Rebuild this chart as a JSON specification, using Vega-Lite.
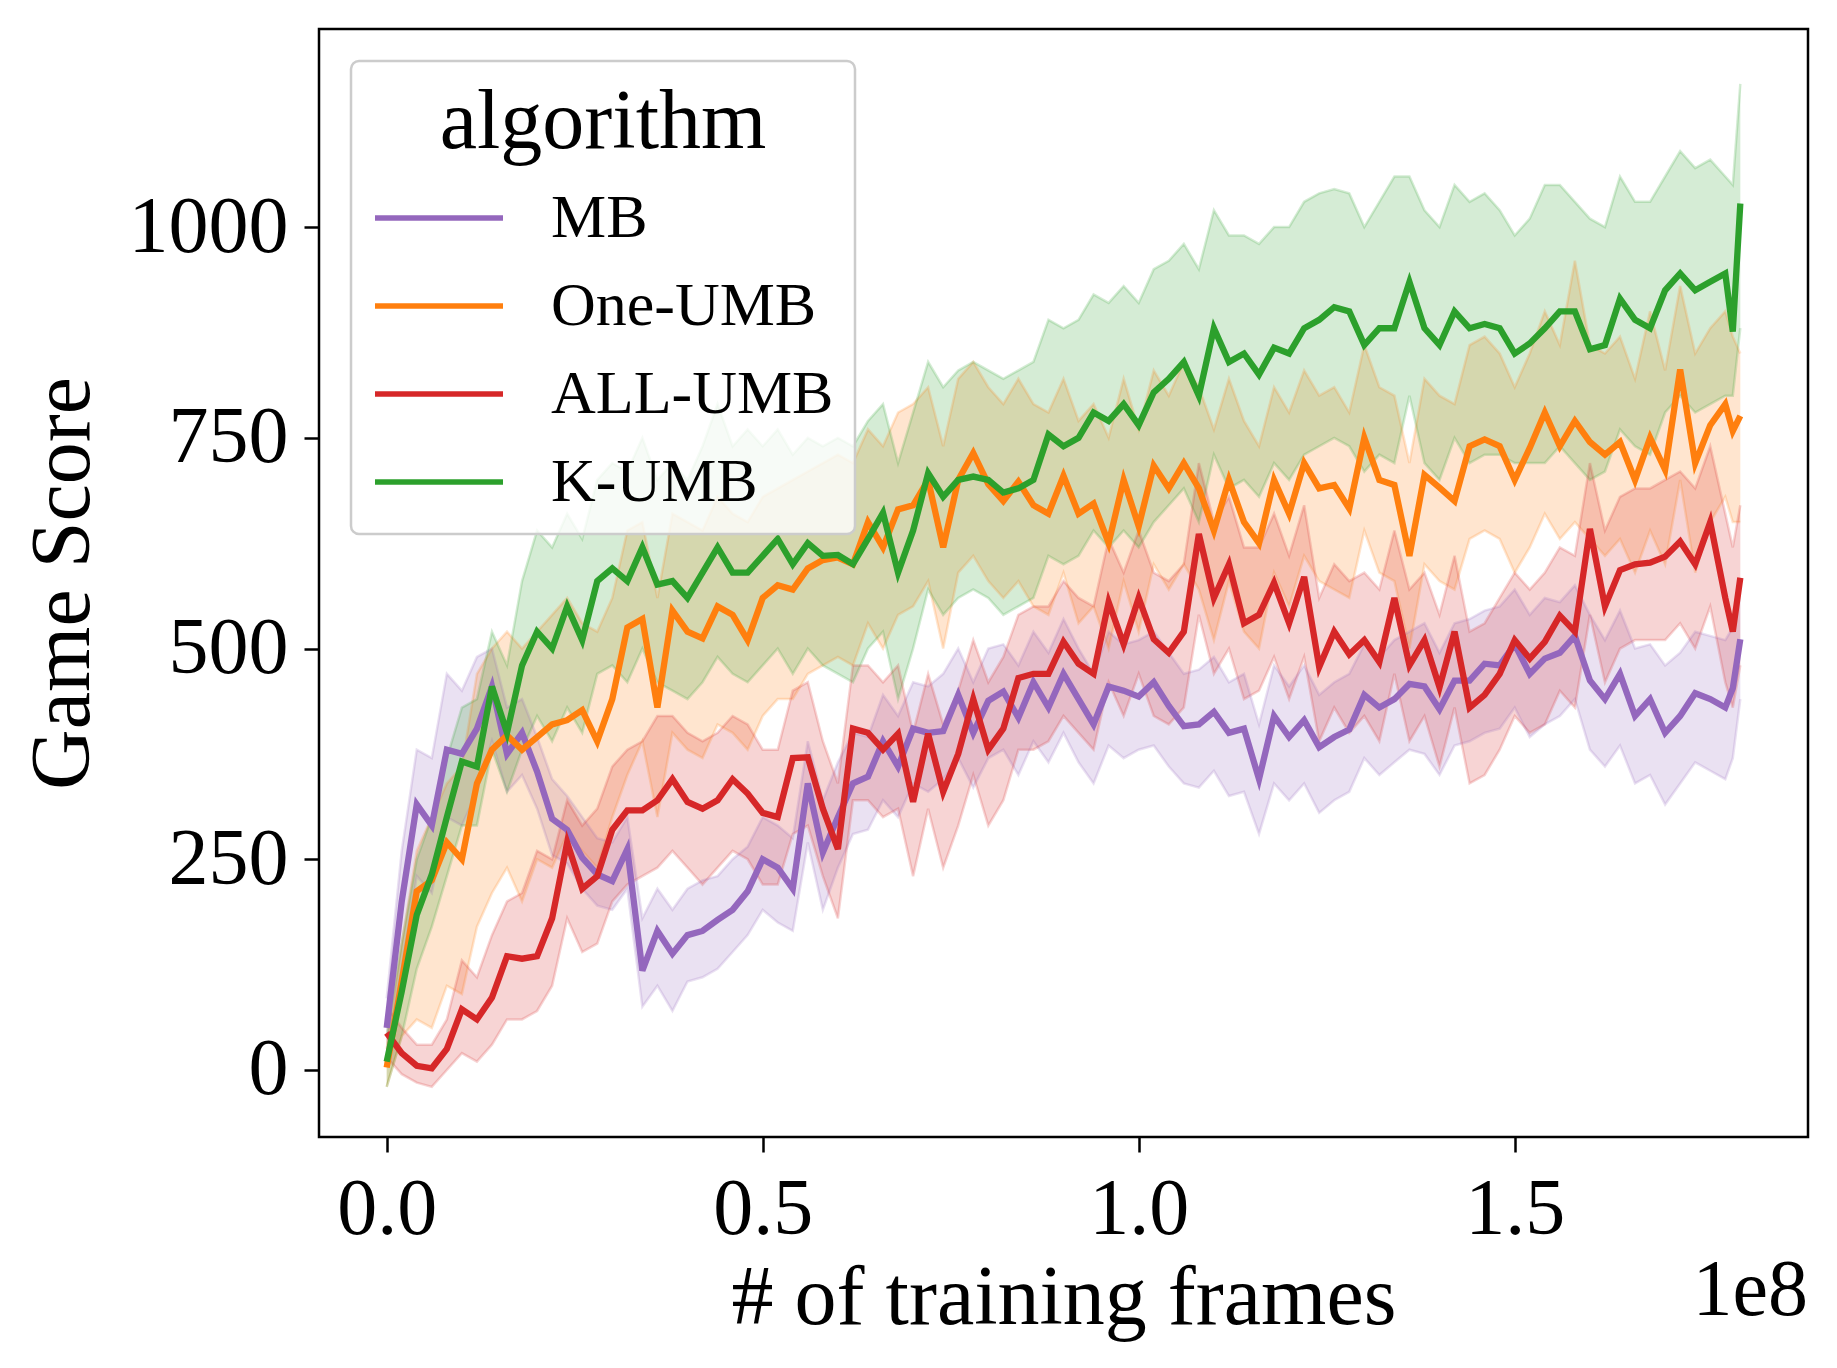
{
  "$schema": "https://vega.github.io/schema/vega-lite/v6.json",
  "description": "Game score vs training frames, mean line with band per algorithm",
  "width": 1489,
  "height": 1108,
  "autosize": {"type": "none"},
  "padding": {"left": 319, "top": 29, "right": 29, "bottom": 231},
  "background": "white",
  "title": {
    "text": "1e8",
    "orient": "bottom",
    "anchor": "end",
    "frame": "group",
    "fontSize": 80,
    "font": "Liberation Serif",
    "fontWeight": "normal",
    "color": "black",
    "offset": -88
  },
  "config": {
    "font": "Liberation Serif",
    "view": {"stroke": "black", "strokeWidth": 2.5},
    "axis": {
      "grid": false,
      "domain": false,
      "tickColor": "black",
      "tickWidth": 2.5,
      "tickSize": 15,
      "labelColor": "black",
      "labelFont": "Liberation Serif",
      "labelFontSize": 80,
      "labelLimit": 400,
      "titleColor": "black",
      "titleFont": "Liberation Serif",
      "titleFontSize": 84,
      "titleFontWeight": "normal"
    },
    "legend": {
      "orient": "top-left",
      "offset": 32,
      "padding": 21,
      "fillColor": "rgba(255,255,255,0.8)",
      "strokeColor": "#cccccc",
      "strokeWidth": 2.5,
      "cornerRadius": 8,
      "titleFont": "Liberation Serif",
      "titleFontSize": 84,
      "titleFontWeight": "normal",
      "titleColor": "black",
      "titleAnchor": "middle",
      "titleLimit": 800,
      "titlePadding": 17,
      "labelFont": "Liberation Serif",
      "labelFontSize": 62,
      "labelColor": "black",
      "labelLimit": 800,
      "labelOffset": 77,
      "symbolType": "M-2,0H2",
      "symbolSize": 4096,
      "symbolOffset": 32,
      "symbolStrokeWidth": 5.5,
      "rowPadding": 22
    }
  },
  "data": {
    "values": [
      {"algorithm":"MB","frames":0,"score":50,"lo":20,"hi":85},
      {"algorithm":"MB","frames":2,"score":200,"lo":120,"hi":260},
      {"algorithm":"MB","frames":4,"score":315,"lo":230,"hi":380},
      {"algorithm":"MB","frames":6,"score":290,"lo":210,"hi":370},
      {"algorithm":"MB","frames":8,"score":380,"lo":300,"hi":470},
      {"algorithm":"MB","frames":10,"score":375,"lo":290,"hi":450},
      {"algorithm":"MB","frames":12,"score":405,"lo":330,"hi":490},
      {"algorithm":"MB","frames":14,"score":455,"lo":390,"hi":500},
      {"algorithm":"MB","frames":16,"score":375,"lo":330,"hi":430},
      {"algorithm":"MB","frames":18,"score":400,"lo":350,"hi":440},
      {"algorithm":"MB","frames":20,"score":354,"lo":310,"hi":395},
      {"algorithm":"MB","frames":22,"score":298,"lo":255,"hi":345},
      {"algorithm":"MB","frames":24,"score":285,"lo":245,"hi":325},
      {"algorithm":"MB","frames":26,"score":252,"lo":215,"hi":300},
      {"algorithm":"MB","frames":28,"score":232,"lo":195,"hi":275},
      {"algorithm":"MB","frames":30,"score":224,"lo":190,"hi":270},
      {"algorithm":"MB","frames":32,"score":262,"lo":215,"hi":300},
      {"algorithm":"MB","frames":34,"score":118,"lo":75,"hi":180},
      {"algorithm":"MB","frames":36,"score":165,"lo":100,"hi":215},
      {"algorithm":"MB","frames":38,"score":138,"lo":70,"hi":190},
      {"algorithm":"MB","frames":40,"score":160,"lo":105,"hi":215},
      {"algorithm":"MB","frames":42,"score":165,"lo":110,"hi":225},
      {"algorithm":"MB","frames":44,"score":178,"lo":120,"hi":230},
      {"algorithm":"MB","frames":46,"score":190,"lo":140,"hi":250},
      {"algorithm":"MB","frames":48,"score":212,"lo":160,"hi":265},
      {"algorithm":"MB","frames":50,"score":250,"lo":190,"hi":300},
      {"algorithm":"MB","frames":52,"score":240,"lo":175,"hi":290},
      {"algorithm":"MB","frames":54,"score":215,"lo":165,"hi":275},
      {"algorithm":"MB","frames":56,"score":340,"lo":270,"hi":390},
      {"algorithm":"MB","frames":58,"score":258,"lo":190,"hi":320},
      {"algorithm":"MB","frames":60,"score":300,"lo":240,"hi":365},
      {"algorithm":"MB","frames":62,"score":340,"lo":280,"hi":400},
      {"algorithm":"MB","frames":64,"score":348,"lo":285,"hi":395},
      {"algorithm":"MB","frames":66,"score":390,"lo":320,"hi":445},
      {"algorithm":"MB","frames":68,"score":360,"lo":300,"hi":420},
      {"algorithm":"MB","frames":70,"score":405,"lo":340,"hi":460},
      {"algorithm":"MB","frames":72,"score":400,"lo":330,"hi":455},
      {"algorithm":"MB","frames":74,"score":402,"lo":345,"hi":470},
      {"algorithm":"MB","frames":76,"score":445,"lo":370,"hi":500},
      {"algorithm":"MB","frames":78,"score":400,"lo":335,"hi":460},
      {"algorithm":"MB","frames":80,"score":438,"lo":370,"hi":500},
      {"algorithm":"MB","frames":82,"score":449,"lo":380,"hi":505},
      {"algorithm":"MB","frames":84,"score":418,"lo":350,"hi":480},
      {"algorithm":"MB","frames":86,"score":460,"lo":390,"hi":520},
      {"algorithm":"MB","frames":88,"score":430,"lo":365,"hi":495},
      {"algorithm":"MB","frames":90,"score":470,"lo":400,"hi":535},
      {"algorithm":"MB","frames":92,"score":440,"lo":365,"hi":500},
      {"algorithm":"MB","frames":94,"score":410,"lo":340,"hi":470},
      {"algorithm":"MB","frames":96,"score":455,"lo":385,"hi":520},
      {"algorithm":"MB","frames":98,"score":450,"lo":370,"hi":505},
      {"algorithm":"MB","frames":100,"score":443,"lo":380,"hi":510},
      {"algorithm":"MB","frames":102,"score":460,"lo":385,"hi":520},
      {"algorithm":"MB","frames":104,"score":432,"lo":360,"hi":495},
      {"algorithm":"MB","frames":106,"score":408,"lo":340,"hi":470},
      {"algorithm":"MB","frames":108,"score":410,"lo":335,"hi":475},
      {"algorithm":"MB","frames":110,"score":425,"lo":355,"hi":490},
      {"algorithm":"MB","frames":112,"score":400,"lo":325,"hi":460},
      {"algorithm":"MB","frames":114,"score":405,"lo":330,"hi":470},
      {"algorithm":"MB","frames":116,"score":345,"lo":280,"hi":410},
      {"algorithm":"MB","frames":118,"score":420,"lo":340,"hi":480},
      {"algorithm":"MB","frames":120,"score":395,"lo":320,"hi":455},
      {"algorithm":"MB","frames":122,"score":415,"lo":340,"hi":480},
      {"algorithm":"MB","frames":124,"score":383,"lo":305,"hi":445},
      {"algorithm":"MB","frames":126,"score":395,"lo":320,"hi":460},
      {"algorithm":"MB","frames":128,"score":404,"lo":330,"hi":470},
      {"algorithm":"MB","frames":130,"score":445,"lo":370,"hi":505},
      {"algorithm":"MB","frames":132,"score":430,"lo":350,"hi":490},
      {"algorithm":"MB","frames":134,"score":440,"lo":365,"hi":510},
      {"algorithm":"MB","frames":136,"score":458,"lo":380,"hi":520},
      {"algorithm":"MB","frames":138,"score":455,"lo":375,"hi":530},
      {"algorithm":"MB","frames":140,"score":428,"lo":350,"hi":495},
      {"algorithm":"MB","frames":142,"score":462,"lo":385,"hi":530},
      {"algorithm":"MB","frames":144,"score":462,"lo":390,"hi":535},
      {"algorithm":"MB","frames":146,"score":482,"lo":400,"hi":545},
      {"algorithm":"MB","frames":148,"score":480,"lo":405,"hi":550},
      {"algorithm":"MB","frames":150,"score":505,"lo":430,"hi":570},
      {"algorithm":"MB","frames":152,"score":470,"lo":395,"hi":540},
      {"algorithm":"MB","frames":154,"score":488,"lo":410,"hi":560},
      {"algorithm":"MB","frames":156,"score":495,"lo":420,"hi":555},
      {"algorithm":"MB","frames":158,"score":515,"lo":440,"hi":575},
      {"algorithm":"MB","frames":160,"score":462,"lo":380,"hi":540},
      {"algorithm":"MB","frames":162,"score":440,"lo":360,"hi":510},
      {"algorithm":"MB","frames":164,"score":470,"lo":385,"hi":545},
      {"algorithm":"MB","frames":166,"score":420,"lo":340,"hi":500},
      {"algorithm":"MB","frames":168,"score":440,"lo":350,"hi":505},
      {"algorithm":"MB","frames":170,"score":400,"lo":315,"hi":480},
      {"algorithm":"MB","frames":172,"score":420,"lo":340,"hi":495},
      {"algorithm":"MB","frames":174,"score":447,"lo":365,"hi":520},
      {"algorithm":"MB","frames":176,"score":440,"lo":355,"hi":515},
      {"algorithm":"MB","frames":178,"score":430,"lo":345,"hi":510},
      {"algorithm":"MB","frames":179,"score":453,"lo":370,"hi":525},
      {"algorithm":"MB","frames":180,"score":511,"lo":440,"hi":580},
      {"algorithm":"One-UMB","frames":0,"score":3,"lo":-20,"hi":25},
      {"algorithm":"One-UMB","frames":2,"score":105,"lo":40,"hi":150},
      {"algorithm":"One-UMB","frames":4,"score":212,"lo":60,"hi":260},
      {"algorithm":"One-UMB","frames":6,"score":225,"lo":50,"hi":300},
      {"algorithm":"One-UMB","frames":8,"score":270,"lo":100,"hi":340},
      {"algorithm":"One-UMB","frames":10,"score":250,"lo":90,"hi":360},
      {"algorithm":"One-UMB","frames":12,"score":340,"lo":170,"hi":470},
      {"algorithm":"One-UMB","frames":14,"score":380,"lo":210,"hi":500},
      {"algorithm":"One-UMB","frames":16,"score":397,"lo":240,"hi":520},
      {"algorithm":"One-UMB","frames":18,"score":380,"lo":200,"hi":500},
      {"algorithm":"One-UMB","frames":20,"score":395,"lo":250,"hi":520},
      {"algorithm":"One-UMB","frames":22,"score":410,"lo":240,"hi":540},
      {"algorithm":"One-UMB","frames":24,"score":415,"lo":280,"hi":560},
      {"algorithm":"One-UMB","frames":26,"score":427,"lo":260,"hi":530},
      {"algorithm":"One-UMB","frames":28,"score":390,"lo":240,"hi":520},
      {"algorithm":"One-UMB","frames":30,"score":440,"lo":300,"hi":560},
      {"algorithm":"One-UMB","frames":32,"score":525,"lo":350,"hi":640},
      {"algorithm":"One-UMB","frames":34,"score":535,"lo":390,"hi":650},
      {"algorithm":"One-UMB","frames":36,"score":430,"lo":300,"hi":560},
      {"algorithm":"One-UMB","frames":38,"score":545,"lo":400,"hi":660},
      {"algorithm":"One-UMB","frames":40,"score":520,"lo":380,"hi":650},
      {"algorithm":"One-UMB","frames":42,"score":512,"lo":370,"hi":640},
      {"algorithm":"One-UMB","frames":44,"score":550,"lo":410,"hi":680},
      {"algorithm":"One-UMB","frames":46,"score":540,"lo":400,"hi":660},
      {"algorithm":"One-UMB","frames":48,"score":510,"lo":380,"hi":650},
      {"algorithm":"One-UMB","frames":50,"score":560,"lo":420,"hi":680},
      {"algorithm":"One-UMB","frames":52,"score":575,"lo":440,"hi":690},
      {"algorithm":"One-UMB","frames":54,"score":570,"lo":440,"hi":700},
      {"algorithm":"One-UMB","frames":56,"score":595,"lo":470,"hi":710},
      {"algorithm":"One-UMB","frames":58,"score":605,"lo":480,"hi":720},
      {"algorithm":"One-UMB","frames":60,"score":608,"lo":490,"hi":730},
      {"algorithm":"One-UMB","frames":62,"score":600,"lo":480,"hi":720},
      {"algorithm":"One-UMB","frames":64,"score":650,"lo":530,"hi":760},
      {"algorithm":"One-UMB","frames":66,"score":620,"lo":500,"hi":740},
      {"algorithm":"One-UMB","frames":68,"score":665,"lo":540,"hi":780},
      {"algorithm":"One-UMB","frames":70,"score":670,"lo":550,"hi":790},
      {"algorithm":"One-UMB","frames":72,"score":700,"lo":580,"hi":810},
      {"algorithm":"One-UMB","frames":74,"score":620,"lo":500,"hi":740},
      {"algorithm":"One-UMB","frames":76,"score":700,"lo":590,"hi":820},
      {"algorithm":"One-UMB","frames":78,"score":732,"lo":610,"hi":840},
      {"algorithm":"One-UMB","frames":80,"score":695,"lo":580,"hi":810},
      {"algorithm":"One-UMB","frames":82,"score":675,"lo":560,"hi":790},
      {"algorithm":"One-UMB","frames":84,"score":698,"lo":580,"hi":820},
      {"algorithm":"One-UMB","frames":86,"score":670,"lo":550,"hi":790},
      {"algorithm":"One-UMB","frames":88,"score":660,"lo":540,"hi":780},
      {"algorithm":"One-UMB","frames":90,"score":705,"lo":590,"hi":820},
      {"algorithm":"One-UMB","frames":92,"score":660,"lo":530,"hi":770},
      {"algorithm":"One-UMB","frames":94,"score":672,"lo":550,"hi":790},
      {"algorithm":"One-UMB","frames":96,"score":625,"lo":500,"hi":750},
      {"algorithm":"One-UMB","frames":98,"score":700,"lo":580,"hi":820},
      {"algorithm":"One-UMB","frames":100,"score":645,"lo":520,"hi":760},
      {"algorithm":"One-UMB","frames":102,"score":717,"lo":600,"hi":830},
      {"algorithm":"One-UMB","frames":104,"score":690,"lo":570,"hi":800},
      {"algorithm":"One-UMB","frames":106,"score":720,"lo":600,"hi":840},
      {"algorithm":"One-UMB","frames":108,"score":690,"lo":570,"hi":810},
      {"algorithm":"One-UMB","frames":110,"score":640,"lo":510,"hi":760},
      {"algorithm":"One-UMB","frames":112,"score":700,"lo":580,"hi":820},
      {"algorithm":"One-UMB","frames":114,"score":650,"lo":520,"hi":770},
      {"algorithm":"One-UMB","frames":116,"score":625,"lo":500,"hi":740},
      {"algorithm":"One-UMB","frames":118,"score":700,"lo":590,"hi":810},
      {"algorithm":"One-UMB","frames":120,"score":660,"lo":550,"hi":780},
      {"algorithm":"One-UMB","frames":122,"score":720,"lo":610,"hi":830},
      {"algorithm":"One-UMB","frames":124,"score":690,"lo":580,"hi":800},
      {"algorithm":"One-UMB","frames":126,"score":694,"lo":570,"hi":810},
      {"algorithm":"One-UMB","frames":128,"score":666,"lo":560,"hi":780},
      {"algorithm":"One-UMB","frames":130,"score":750,"lo":640,"hi":860},
      {"algorithm":"One-UMB","frames":132,"score":700,"lo":590,"hi":810},
      {"algorithm":"One-UMB","frames":134,"score":694,"lo":580,"hi":800},
      {"algorithm":"One-UMB","frames":136,"score":610,"lo":500,"hi":720},
      {"algorithm":"One-UMB","frames":138,"score":706,"lo":600,"hi":820},
      {"algorithm":"One-UMB","frames":140,"score":691,"lo":580,"hi":800},
      {"algorithm":"One-UMB","frames":142,"score":675,"lo":570,"hi":790},
      {"algorithm":"One-UMB","frames":144,"score":740,"lo":630,"hi":860},
      {"algorithm":"One-UMB","frames":146,"score":748,"lo":640,"hi":870},
      {"algorithm":"One-UMB","frames":148,"score":740,"lo":630,"hi":850},
      {"algorithm":"One-UMB","frames":150,"score":700,"lo":590,"hi":810},
      {"algorithm":"One-UMB","frames":152,"score":738,"lo":620,"hi":850},
      {"algorithm":"One-UMB","frames":154,"score":780,"lo":660,"hi":900},
      {"algorithm":"One-UMB","frames":156,"score":740,"lo":630,"hi":860},
      {"algorithm":"One-UMB","frames":158,"score":770,"lo":650,"hi":960},
      {"algorithm":"One-UMB","frames":160,"score":745,"lo":630,"hi":860},
      {"algorithm":"One-UMB","frames":162,"score":730,"lo":610,"hi":850},
      {"algorithm":"One-UMB","frames":164,"score":745,"lo":630,"hi":870},
      {"algorithm":"One-UMB","frames":166,"score":700,"lo":590,"hi":820},
      {"algorithm":"One-UMB","frames":168,"score":750,"lo":640,"hi":900},
      {"algorithm":"One-UMB","frames":170,"score":712,"lo":600,"hi":830},
      {"algorithm":"One-UMB","frames":172,"score":831,"lo":700,"hi":930},
      {"algorithm":"One-UMB","frames":174,"score":720,"lo":590,"hi":850},
      {"algorithm":"One-UMB","frames":176,"score":765,"lo":650,"hi":880},
      {"algorithm":"One-UMB","frames":178,"score":790,"lo":680,"hi":900},
      {"algorithm":"One-UMB","frames":179,"score":758,"lo":650,"hi":870},
      {"algorithm":"One-UMB","frames":180,"score":776,"lo":650,"hi":850},
      {"algorithm":"ALL-UMB","frames":0,"score":44,"lo":15,"hi":75},
      {"algorithm":"ALL-UMB","frames":2,"score":20,"lo":-5,"hi":50},
      {"algorithm":"ALL-UMB","frames":4,"score":5,"lo":-15,"hi":30},
      {"algorithm":"ALL-UMB","frames":6,"score":2,"lo":-20,"hi":30},
      {"algorithm":"ALL-UMB","frames":8,"score":25,"lo":0,"hi":60},
      {"algorithm":"ALL-UMB","frames":10,"score":72,"lo":20,"hi":130},
      {"algorithm":"ALL-UMB","frames":12,"score":60,"lo":10,"hi":110},
      {"algorithm":"ALL-UMB","frames":14,"score":86,"lo":30,"hi":160},
      {"algorithm":"ALL-UMB","frames":16,"score":135,"lo":60,"hi":200},
      {"algorithm":"ALL-UMB","frames":18,"score":132,"lo":60,"hi":210},
      {"algorithm":"ALL-UMB","frames":20,"score":135,"lo":70,"hi":260},
      {"algorithm":"ALL-UMB","frames":22,"score":180,"lo":100,"hi":250},
      {"algorithm":"ALL-UMB","frames":24,"score":270,"lo":180,"hi":320},
      {"algorithm":"ALL-UMB","frames":26,"score":215,"lo":140,"hi":290},
      {"algorithm":"ALL-UMB","frames":28,"score":230,"lo":150,"hi":310},
      {"algorithm":"ALL-UMB","frames":30,"score":285,"lo":200,"hi":360},
      {"algorithm":"ALL-UMB","frames":32,"score":308,"lo":220,"hi":380},
      {"algorithm":"ALL-UMB","frames":34,"score":308,"lo":230,"hi":390},
      {"algorithm":"ALL-UMB","frames":36,"score":320,"lo":240,"hi":420},
      {"algorithm":"ALL-UMB","frames":38,"score":345,"lo":260,"hi":420},
      {"algorithm":"ALL-UMB","frames":40,"score":318,"lo":240,"hi":400},
      {"algorithm":"ALL-UMB","frames":42,"score":310,"lo":220,"hi":390},
      {"algorithm":"ALL-UMB","frames":44,"score":320,"lo":240,"hi":400},
      {"algorithm":"ALL-UMB","frames":46,"score":345,"lo":260,"hi":420},
      {"algorithm":"ALL-UMB","frames":48,"score":328,"lo":250,"hi":410},
      {"algorithm":"ALL-UMB","frames":50,"score":305,"lo":220,"hi":380},
      {"algorithm":"ALL-UMB","frames":52,"score":300,"lo":220,"hi":380},
      {"algorithm":"ALL-UMB","frames":54,"score":370,"lo":280,"hi":450},
      {"algorithm":"ALL-UMB","frames":56,"score":371,"lo":290,"hi":460},
      {"algorithm":"ALL-UMB","frames":58,"score":310,"lo":230,"hi":390},
      {"algorithm":"ALL-UMB","frames":60,"score":262,"lo":180,"hi":340},
      {"algorithm":"ALL-UMB","frames":62,"score":405,"lo":320,"hi":480},
      {"algorithm":"ALL-UMB","frames":64,"score":400,"lo":320,"hi":480},
      {"algorithm":"ALL-UMB","frames":66,"score":380,"lo":300,"hi":460},
      {"algorithm":"ALL-UMB","frames":68,"score":399,"lo":310,"hi":480},
      {"algorithm":"ALL-UMB","frames":70,"score":318,"lo":230,"hi":400},
      {"algorithm":"ALL-UMB","frames":72,"score":399,"lo":310,"hi":470},
      {"algorithm":"ALL-UMB","frames":74,"score":330,"lo":240,"hi":410},
      {"algorithm":"ALL-UMB","frames":76,"score":375,"lo":290,"hi":450},
      {"algorithm":"ALL-UMB","frames":78,"score":440,"lo":350,"hi":510},
      {"algorithm":"ALL-UMB","frames":80,"score":380,"lo":290,"hi":460},
      {"algorithm":"ALL-UMB","frames":82,"score":405,"lo":320,"hi":490},
      {"algorithm":"ALL-UMB","frames":84,"score":465,"lo":380,"hi":540},
      {"algorithm":"ALL-UMB","frames":86,"score":470,"lo":380,"hi":550},
      {"algorithm":"ALL-UMB","frames":88,"score":470,"lo":390,"hi":550},
      {"algorithm":"ALL-UMB","frames":90,"score":508,"lo":420,"hi":580},
      {"algorithm":"ALL-UMB","frames":92,"score":482,"lo":400,"hi":560},
      {"algorithm":"ALL-UMB","frames":94,"score":470,"lo":380,"hi":550},
      {"algorithm":"ALL-UMB","frames":96,"score":555,"lo":460,"hi":630},
      {"algorithm":"ALL-UMB","frames":98,"score":505,"lo":420,"hi":590},
      {"algorithm":"ALL-UMB","frames":100,"score":560,"lo":470,"hi":640},
      {"algorithm":"ALL-UMB","frames":102,"score":511,"lo":420,"hi":590},
      {"algorithm":"ALL-UMB","frames":104,"score":495,"lo":410,"hi":580},
      {"algorithm":"ALL-UMB","frames":106,"score":520,"lo":430,"hi":600},
      {"algorithm":"ALL-UMB","frames":108,"score":636,"lo":540,"hi":720},
      {"algorithm":"ALL-UMB","frames":110,"score":560,"lo":470,"hi":650},
      {"algorithm":"ALL-UMB","frames":112,"score":600,"lo":500,"hi":680},
      {"algorithm":"ALL-UMB","frames":114,"score":530,"lo":440,"hi":620},
      {"algorithm":"ALL-UMB","frames":116,"score":540,"lo":450,"hi":620},
      {"algorithm":"ALL-UMB","frames":118,"score":578,"lo":490,"hi":660},
      {"algorithm":"ALL-UMB","frames":120,"score":530,"lo":440,"hi":610},
      {"algorithm":"ALL-UMB","frames":122,"score":585,"lo":490,"hi":670},
      {"algorithm":"ALL-UMB","frames":124,"score":478,"lo":390,"hi":560},
      {"algorithm":"ALL-UMB","frames":126,"score":520,"lo":430,"hi":600},
      {"algorithm":"ALL-UMB","frames":128,"score":493,"lo":400,"hi":580},
      {"algorithm":"ALL-UMB","frames":130,"score":510,"lo":420,"hi":590},
      {"algorithm":"ALL-UMB","frames":132,"score":484,"lo":390,"hi":570},
      {"algorithm":"ALL-UMB","frames":134,"score":560,"lo":470,"hi":640},
      {"algorithm":"ALL-UMB","frames":136,"score":480,"lo":390,"hi":570},
      {"algorithm":"ALL-UMB","frames":138,"score":510,"lo":420,"hi":590},
      {"algorithm":"ALL-UMB","frames":140,"score":454,"lo":360,"hi":540},
      {"algorithm":"ALL-UMB","frames":142,"score":520,"lo":430,"hi":610},
      {"algorithm":"ALL-UMB","frames":144,"score":430,"lo":340,"hi":520},
      {"algorithm":"ALL-UMB","frames":146,"score":445,"lo":350,"hi":530},
      {"algorithm":"ALL-UMB","frames":148,"score":470,"lo":380,"hi":560},
      {"algorithm":"ALL-UMB","frames":150,"score":510,"lo":420,"hi":590},
      {"algorithm":"ALL-UMB","frames":152,"score":488,"lo":400,"hi":570},
      {"algorithm":"ALL-UMB","frames":154,"score":508,"lo":410,"hi":590},
      {"algorithm":"ALL-UMB","frames":156,"score":539,"lo":450,"hi":620},
      {"algorithm":"ALL-UMB","frames":158,"score":520,"lo":430,"hi":610},
      {"algorithm":"ALL-UMB","frames":160,"score":642,"lo":540,"hi":720},
      {"algorithm":"ALL-UMB","frames":162,"score":550,"lo":460,"hi":640},
      {"algorithm":"ALL-UMB","frames":164,"score":593,"lo":500,"hi":680},
      {"algorithm":"ALL-UMB","frames":166,"score":600,"lo":510,"hi":690},
      {"algorithm":"ALL-UMB","frames":168,"score":602,"lo":510,"hi":690},
      {"algorithm":"ALL-UMB","frames":170,"score":609,"lo":510,"hi":700},
      {"algorithm":"ALL-UMB","frames":172,"score":627,"lo":530,"hi":710},
      {"algorithm":"ALL-UMB","frames":174,"score":600,"lo":500,"hi":690},
      {"algorithm":"ALL-UMB","frames":176,"score":650,"lo":550,"hi":740},
      {"algorithm":"ALL-UMB","frames":178,"score":560,"lo":460,"hi":660},
      {"algorithm":"ALL-UMB","frames":179,"score":520,"lo":430,"hi":620},
      {"algorithm":"ALL-UMB","frames":180,"score":584,"lo":480,"hi":670},
      {"algorithm":"K-UMB","frames":0,"score":10,"lo":-20,"hi":40},
      {"algorithm":"K-UMB","frames":2,"score":93,"lo":40,"hi":150},
      {"algorithm":"K-UMB","frames":4,"score":184,"lo":120,"hi":250},
      {"algorithm":"K-UMB","frames":6,"score":232,"lo":170,"hi":300},
      {"algorithm":"K-UMB","frames":8,"score":300,"lo":230,"hi":370},
      {"algorithm":"K-UMB","frames":10,"score":366,"lo":290,"hi":430},
      {"algorithm":"K-UMB","frames":12,"score":360,"lo":290,"hi":440},
      {"algorithm":"K-UMB","frames":14,"score":455,"lo":380,"hi":520},
      {"algorithm":"K-UMB","frames":16,"score":400,"lo":330,"hi":480},
      {"algorithm":"K-UMB","frames":18,"score":480,"lo":380,"hi":580},
      {"algorithm":"K-UMB","frames":20,"score":520,"lo":420,"hi":640},
      {"algorithm":"K-UMB","frames":22,"score":500,"lo":390,"hi":620},
      {"algorithm":"K-UMB","frames":24,"score":550,"lo":430,"hi":660},
      {"algorithm":"K-UMB","frames":26,"score":510,"lo":400,"hi":630},
      {"algorithm":"K-UMB","frames":28,"score":580,"lo":470,"hi":700},
      {"algorithm":"K-UMB","frames":30,"score":595,"lo":480,"hi":720},
      {"algorithm":"K-UMB","frames":32,"score":580,"lo":460,"hi":710},
      {"algorithm":"K-UMB","frames":34,"score":620,"lo":500,"hi":750},
      {"algorithm":"K-UMB","frames":36,"score":576,"lo":460,"hi":700},
      {"algorithm":"K-UMB","frames":38,"score":580,"lo":450,"hi":720},
      {"algorithm":"K-UMB","frames":40,"score":560,"lo":440,"hi":700},
      {"algorithm":"K-UMB","frames":42,"score":590,"lo":460,"hi":740},
      {"algorithm":"K-UMB","frames":44,"score":620,"lo":490,"hi":790},
      {"algorithm":"K-UMB","frames":46,"score":590,"lo":470,"hi":740},
      {"algorithm":"K-UMB","frames":48,"score":590,"lo":460,"hi":760},
      {"algorithm":"K-UMB","frames":50,"score":610,"lo":480,"hi":740},
      {"algorithm":"K-UMB","frames":52,"score":630,"lo":500,"hi":760},
      {"algorithm":"K-UMB","frames":54,"score":600,"lo":470,"hi":730},
      {"algorithm":"K-UMB","frames":56,"score":625,"lo":500,"hi":750},
      {"algorithm":"K-UMB","frames":58,"score":610,"lo":480,"hi":740},
      {"algorithm":"K-UMB","frames":60,"score":611,"lo":470,"hi":750},
      {"algorithm":"K-UMB","frames":62,"score":600,"lo":460,"hi":740},
      {"algorithm":"K-UMB","frames":64,"score":630,"lo":500,"hi":770},
      {"algorithm":"K-UMB","frames":66,"score":661,"lo":520,"hi":790},
      {"algorithm":"K-UMB","frames":68,"score":590,"lo":440,"hi":720},
      {"algorithm":"K-UMB","frames":70,"score":640,"lo":500,"hi":780},
      {"algorithm":"K-UMB","frames":72,"score":708,"lo":570,"hi":840},
      {"algorithm":"K-UMB","frames":74,"score":680,"lo":540,"hi":810},
      {"algorithm":"K-UMB","frames":76,"score":700,"lo":560,"hi":830},
      {"algorithm":"K-UMB","frames":78,"score":704,"lo":570,"hi":840},
      {"algorithm":"K-UMB","frames":80,"score":700,"lo":560,"hi":830},
      {"algorithm":"K-UMB","frames":82,"score":685,"lo":540,"hi":820},
      {"algorithm":"K-UMB","frames":84,"score":690,"lo":550,"hi":830},
      {"algorithm":"K-UMB","frames":86,"score":700,"lo":560,"hi":840},
      {"algorithm":"K-UMB","frames":88,"score":754,"lo":610,"hi":890},
      {"algorithm":"K-UMB","frames":90,"score":740,"lo":600,"hi":880},
      {"algorithm":"K-UMB","frames":92,"score":750,"lo":610,"hi":890},
      {"algorithm":"K-UMB","frames":94,"score":780,"lo":640,"hi":920},
      {"algorithm":"K-UMB","frames":96,"score":770,"lo":620,"hi":910},
      {"algorithm":"K-UMB","frames":98,"score":790,"lo":640,"hi":930},
      {"algorithm":"K-UMB","frames":100,"score":765,"lo":620,"hi":910},
      {"algorithm":"K-UMB","frames":102,"score":804,"lo":650,"hi":950},
      {"algorithm":"K-UMB","frames":104,"score":820,"lo":670,"hi":960},
      {"algorithm":"K-UMB","frames":106,"score":840,"lo":690,"hi":980},
      {"algorithm":"K-UMB","frames":108,"score":800,"lo":650,"hi":950},
      {"algorithm":"K-UMB","frames":110,"score":880,"lo":730,"hi":1020},
      {"algorithm":"K-UMB","frames":112,"score":840,"lo":690,"hi":990},
      {"algorithm":"K-UMB","frames":114,"score":850,"lo":700,"hi":990},
      {"algorithm":"K-UMB","frames":116,"score":825,"lo":680,"hi":980},
      {"algorithm":"K-UMB","frames":118,"score":857,"lo":720,"hi":1000},
      {"algorithm":"K-UMB","frames":120,"score":850,"lo":700,"hi":1000},
      {"algorithm":"K-UMB","frames":122,"score":880,"lo":730,"hi":1030},
      {"algorithm":"K-UMB","frames":124,"score":890,"lo":740,"hi":1040},
      {"algorithm":"K-UMB","frames":126,"score":905,"lo":750,"hi":1045},
      {"algorithm":"K-UMB","frames":128,"score":900,"lo":740,"hi":1040},
      {"algorithm":"K-UMB","frames":130,"score":860,"lo":710,"hi":1000},
      {"algorithm":"K-UMB","frames":132,"score":880,"lo":730,"hi":1030},
      {"algorithm":"K-UMB","frames":134,"score":880,"lo":720,"hi":1060},
      {"algorithm":"K-UMB","frames":136,"score":935,"lo":800,"hi":1060},
      {"algorithm":"K-UMB","frames":138,"score":880,"lo":720,"hi":1020},
      {"algorithm":"K-UMB","frames":140,"score":860,"lo":700,"hi":1000},
      {"algorithm":"K-UMB","frames":142,"score":900,"lo":750,"hi":1050},
      {"algorithm":"K-UMB","frames":144,"score":880,"lo":720,"hi":1030},
      {"algorithm":"K-UMB","frames":146,"score":885,"lo":730,"hi":1040},
      {"algorithm":"K-UMB","frames":148,"score":880,"lo":730,"hi":1020},
      {"algorithm":"K-UMB","frames":150,"score":850,"lo":720,"hi":990},
      {"algorithm":"K-UMB","frames":152,"score":862,"lo":720,"hi":1010},
      {"algorithm":"K-UMB","frames":154,"score":880,"lo":720,"hi":1050},
      {"algorithm":"K-UMB","frames":156,"score":900,"lo":740,"hi":1050},
      {"algorithm":"K-UMB","frames":158,"score":900,"lo":720,"hi":1030},
      {"algorithm":"K-UMB","frames":160,"score":855,"lo":700,"hi":1010},
      {"algorithm":"K-UMB","frames":162,"score":860,"lo":710,"hi":1000},
      {"algorithm":"K-UMB","frames":164,"score":915,"lo":760,"hi":1060},
      {"algorithm":"K-UMB","frames":166,"score":890,"lo":740,"hi":1030},
      {"algorithm":"K-UMB","frames":168,"score":880,"lo":730,"hi":1030},
      {"algorithm":"K-UMB","frames":170,"score":925,"lo":780,"hi":1060},
      {"algorithm":"K-UMB","frames":172,"score":945,"lo":800,"hi":1090},
      {"algorithm":"K-UMB","frames":174,"score":925,"lo":780,"hi":1070},
      {"algorithm":"K-UMB","frames":176,"score":935,"lo":790,"hi":1080},
      {"algorithm":"K-UMB","frames":178,"score":945,"lo":800,"hi":1060},
      {"algorithm":"K-UMB","frames":179,"score":876,"lo":800,"hi":1050},
      {"algorithm":"K-UMB","frames":180,"score":1028,"lo":880,"hi":1170}
    ]
  },
  "encoding": {
    "x": {
      "field": "frames",
      "type": "quantitative",
      "title": "# of training frames",
      "scale": {"domain": [-9, 189], "nice": false, "zero": false},
      "axis": {
        "values": [0, 50, 100, 150],
        "labelExpr": "format(datum.value / 100, '.1f')",
        "labelPadding": 18,
        "titlePadding": 8
      }
    },
    "color": {
      "field": "algorithm",
      "type": "nominal",
      "title": "algorithm",
      "scale": {"domain": ["MB", "One-UMB", "ALL-UMB", "K-UMB"], "range": ["#9467bd", "#ff7f0e", "#d62728", "#2ca02c"]},
      "legend": {
        "encode": {
          "symbols": {
            "update": {
              "stroke": {"scale": "color", "field": "value"},
              "strokeOpacity": {"value": 1},
              "opacity": {"value": 1},
              "fill": {"value": "transparent"}
            }
          }
        }
      }
    }
  },
  "layer": [
    {
      "mark": {"type": "area", "fillOpacity": 0.2},
      "encoding": {
        "y": {
          "field": "lo",
          "type": "quantitative",
          "title": "Game Score",
          "scale": {"domain": [-79.5, 1235], "nice": false, "zero": false},
          "axis": {"values": [0, 250, 500, 750, 1000], "format": "d", "labelPadding": 16, "titlePadding": 22}
        },
        "y2": {"field": "hi"}
      }
    },
    {
      "mark": {"type": "line", "strokeOpacity": 0.2, "strokeWidth": 2.5},
      "encoding": {
        "y": {"field": "lo", "type": "quantitative", "title": "Game Score"}
      }
    },
    {
      "mark": {"type": "line", "strokeOpacity": 0.2, "strokeWidth": 2.5},
      "encoding": {
        "y": {"field": "hi", "type": "quantitative", "title": "Game Score"}
      }
    },
    {
      "mark": {"type": "line", "strokeWidth": 6.3},
      "encoding": {
        "y": {"field": "score", "type": "quantitative", "title": "Game Score"}
      }
    }
  ]
}
